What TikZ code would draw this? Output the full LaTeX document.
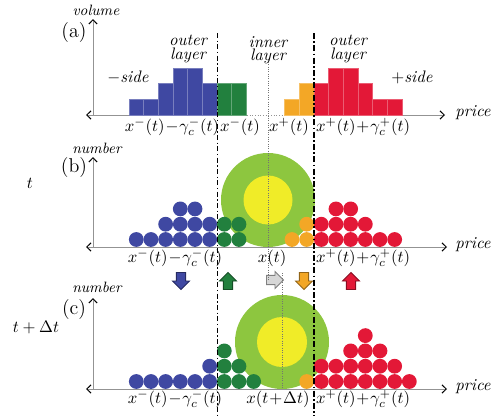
\documentclass[tikz,border=0pt]{standalone}
\usetikzlibrary{positioning}
\usetikzlibrary{arrows.meta}

\definecolor{bblue}{RGB}{63,72,162}
\definecolor{bgreen}{RGB}{34,128,62}
\definecolor{borange}{RGB}{243,167,38}
\definecolor{bred}{RGB}{227,24,55}
\definecolor{lgreen}{RGB}{141,198,63}
\definecolor{lyellow}{RGB}{240,236,40}
\definecolor{lgrey}{RGB}{215,215,215}

\tikzset{
  axis/.style={draw=gray!85, line width=0.6pt},
  axtip/.tip={Straight Barb[length=2.6pt,width=5pt,black]},
  bar/.style={fill=#1, draw=#1!70!white, line width=0.3pt},
  lbl/.style={font=\itshape, inner sep=1pt},
  mlbl/.style={inner sep=1pt, execute at begin node={\medmuskip=1mu}},
  lay/.style={font=\fontsize{10}{8}\selectfont\itshape, align=center, inner sep=1pt},
  fat/.style={fill=#1, draw=#1!60!black, line width=0.5pt},
  fatarrow/.pic={\draw[pic actions] (-4.6,8.5) -- (-4.6,0) -- (-8.5,0) -- (0,-8.5)
    -- (8.5,0) -- (4.6,0) -- (4.6,8.5) -- cycle;},
}

\begin{document}
\begin{tikzpicture}[x=0.6pt, y=-0.6pt]
  %frame
  \useasboundingbox (0,0) rectangle (500,416);

  % ---- (a) volume histogram
  \coordinate (aO) at (93,115);
  \coordinate (aT) at (93,19);
  \coordinate (aL) at (86,115);
  \coordinate (aR) at (445,115);
  \draw[axis, -axtip] (aO) -- (aT);
  \draw[axis, axtip-] (aL) -- (217,115);
  \draw[axis, densely dotted] (247,115) -- (285,115);
  \draw[axis, -axtip] (314,115) -- (aR);
  % bars
  \foreach \i/\h in {0/1,1/1,2/2,3/3,4/3,5/2}
    \draw[bar=bblue] (129+\i*14.67,115) rectangle ++(14.67,-\h*15.7);
  \foreach \i/\h in {0/2,1/2}
    \draw[bar=bgreen] (217+\i*14.67,115) rectangle ++(14.67,-\h*15.7);
  \foreach \i/\h in {0/1,1/2}
    \draw[bar=borange] (284.7+\i*14.67,115) rectangle ++(14.67,-\h*15.7);
  \foreach \i/\h in {0/2,1/3,2/3,3/2,4/1,5/1}
    \draw[bar=bred] (314+\i*14.67,115) rectangle ++(14.67,-\h*15.7);
  % labels
  \node[lbl, font=\small\itshape] (volA) at (96,10) {volume};
  \node[font=\large] (tagA) at (74,33) {(a)};
  \node[lay] (outerL) at (188,49) {outer\\layer};
  \node[lay] (inner) at (268,50) {inner\\layer};
  \node[lay] (outerR) at (348,49) {outer\\layer};
  \node[lbl] (sideL) at (128,77) {$-$side};
  \node[lbl] (sideR) at (412,77) {$+$side};
  \node[lbl] (priceA) at (473,113) {price};
  \node[mlbl] (xmgA) at (172,127) {$x^-(t)-\gamma_c^-(t)$};
  \node[mlbl] (xmA) at (240,127) {$x^-(t)$};
  \node[mlbl] (xpA) at (289,127) {$x^+(t)$};
  \node[mlbl] (xpgA) at (363,127) {$x^+(t)+\gamma_c^+(t)$};

  % ---- (b) number at t
  \coordinate (bO) at (93,247);
  \coordinate (bT) at (93,157);
  \coordinate (bL) at (86,247);
  \coordinate (bR) at (447,247);
  \draw[axis, -axtip] (bO) -- (bT);
  \draw[axis, axtip-axtip] (bL) -- (bR);
  % market maker
  \fill[lgreen] (268,200) circle (47);
  \fill[lyellow] (268,200) circle (24.5);
  % orders
  \foreach \i/\n in {0/1,1/1,2/2,3/3,4/3,5/2}
    \foreach \r in {1,...,\n}
      \fill[bblue] (136.3+\i*14.67,239.5-\r*15.3+15.3) circle (7.4);
  \foreach \i/\n in {0/2,1/2}
    \foreach \r in {1,...,\n}
      \fill[bgreen] (224.3+\i*14.67,239.5-\r*15.3+15.3) circle (7.4);
  \foreach \i/\n in {0/1,1/2}
    \foreach \r in {1,...,\n}
      \fill[borange] (292+\i*14.67,239.5-\r*15.3+15.3) circle (7.4);
  \foreach \i/\n in {0/2,1/3,2/3,3/2,4/1,5/1}
    \foreach \r in {1,...,\n}
      \fill[bred] (321.3+\i*14.67,239.5-\r*15.3+15.3) circle (7.4);
  % labels
  \node[lbl, font=\small\itshape] (numB) at (97,148) {number};
  \node[font=\large] (tagB) at (74,168) {(b)};
  \node (timeB) at (30,183) {$t$};
  \node[lbl] (priceB) at (473,245) {price};
  \node[mlbl] (xmgB) at (175,258) {$x^-(t)-\gamma_c^-(t)$};
  \node[mlbl] (xB) at (272,258) {$x(t)$};
  \node[mlbl] (xpgB) at (363,258) {$x^+(t)+\gamma_c^+(t)$};

  % ---- moves between t and t+dt
  \coordinate (mvBlue) at (181,281);
  \coordinate (mvGreen) at (228,281);
  \coordinate (mvGrey) at (275,280);
  \coordinate (mvOrange) at (304,281);
  \coordinate (mvRed) at (351,281);
  \pic[fat=bblue, rotate=180] at (mvBlue) {fatarrow};
  \pic[fat=bgreen] at (mvGreen) {fatarrow};
  \pic[fill=lgrey, draw=gray, line width=0.5pt, rotate=-90] at (mvGrey) {fatarrow};
  \pic[fat=borange, rotate=180] at (mvOrange) {fatarrow};
  \pic[fat=bred] at (mvRed) {fatarrow};

  % ---- (c) number at t+dt
  \coordinate (cO) at (93,389);
  \coordinate (cT) at (93,298);
  \coordinate (cL) at (86,389);
  \coordinate (cR) at (447,389);
  \draw[axis, -axtip] (cO) -- (cT);
  \draw[axis, axtip-axtip] (cL) -- (cR);
  % market maker
  \fill[lgreen] (282,342) circle (47);
  \fill[lyellow] (282,342) circle (25);
  % orders
  \foreach \i/\n in {0/1,1/1,2/1,3/1,4/1,5/2}
    \foreach \r in {1,...,\n}
      \fill[bblue] (136.3+\i*14.67,381.5-\r*15.3+15.3) circle (7.4);
  \foreach \i/\n in {0/3,1/2,2/1}
    \foreach \r in {1,...,\n}
      \fill[bgreen] (224.3+\i*14.67,381.5-\r*15.3+15.3) circle (7.4);
  \fill[borange] (306.7,381.5) circle (7.4);
  \foreach \i/\n in {0/2,1/2,2/3,3/4,4/3,5/2,6/1}
    \foreach \r in {1,...,\n}
      \fill[bred] (321.3+\i*14.67,381.5-\r*15.3+15.3) circle (7.4);
  % labels
  \node[lbl, font=\small\itshape] (numC) at (97,287) {number};
  \node[font=\large] (tagC) at (74,310) {(c)};
  \node (timeC) at (36,327) {$t+\Delta t$};
  \node[lbl] (priceC) at (473,387) {price};
  \node[mlbl] (xmgC) at (175,399) {$x^-(t)-\gamma_c^-(t)$};
  \node[mlbl] (xC) at (278,399) {$x(t+\Delta t)$};
  \node[mlbl] (xpgC) at (363,399) {$x^+(t)+\gamma_c^+(t)$};

  % ---- layer borders
  \draw[line width=0.5pt, dash pattern=on 3pt off 1.5pt on 0.8pt off 1.5pt] (217,33) -- (217,416);
  \draw[line width=0.9pt, dash pattern=on 3.5pt off 1.5pt on 0.9pt off 1.5pt] (314,33) -- (314,416);
  \draw[gray!90!black, line width=0.4pt, densely dotted] (268,62) -- (268,280);
  \draw[gray!90!black, line width=0.4pt, densely dotted] (282,273) -- (282,389);
\end{tikzpicture}
\end{document}
